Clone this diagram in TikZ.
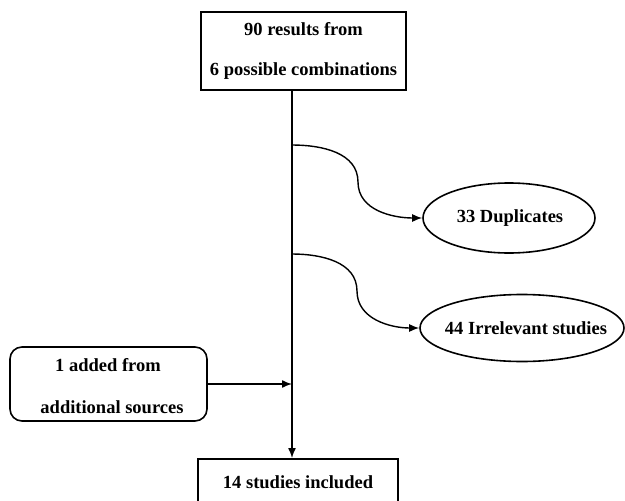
\documentclass[tikz,border=0pt]{standalone}
\usepackage{fontspec}
\setmainfont{Liberation Serif}
\usetikzlibrary{shapes.geometric,arrows.meta}
\begin{document}
\begin{tikzpicture}[x=1pt,y=-1pt,
  every node/.style={font=\fontsize{18.5}{21}\selectfont\bfseries},
  arr/.style={line width=1.4pt, -{Latex[length=10pt,width=8pt]}},
  box/.style={draw, line width=1.6pt, rectangle, inner sep=0pt},
  oval/.style={draw, line width=1.6pt, ellipse, inner sep=0pt}]
\useasboundingbox (0,0) rectangle (625,501);
% top box
\node[box, minimum width=205pt, minimum height=78pt] (top) at (303.5,51) {};
\node (t1) at (303.5,29) {90 results from};
\node (t2) at (303.5,71) {6 possible combinations};
% bottom box
\node[box, minimum width=200pt, minimum height=60pt, anchor=north] (bot) at (298,458) {};
\node (b1) at (298,482) {14 studies included};
% left rounded box
\node[box, rounded corners=12pt, minimum width=197pt, minimum height=74pt] (left) at (108.5,384) {};
\node (l1) at (108,365) {1 added from};
\node (l2) at (112,407) {additional sources};
% ellipses
\node[oval, minimum width=172pt, minimum height=70pt] (dup) at (509,218) {};
\node (dupt) at (510,218) {33 Duplicates};
\node[oval, minimum width=204pt, minimum height=67pt] (irr) at (522,328) {};
\node (irrt) at (526,328) {44 Irrelevant studies};
% main line
\coordinate (m1) at (292,145);
\coordinate (m2) at (292,254);
\coordinate (m3) at (292,384);
\coordinate (c1) at (358,182);
\coordinate (c2) at (357,291);
\draw[arr] (top.south -| m1) -- (bot.north -| m1);
\draw[arr] (m1) to[out=0,in=90] (c1) to[out=-90,in=180] (dup.west);
\draw[arr] (m2) to[out=0,in=90] (c2) to[out=-90,in=180] (irr.west);
\draw[arr] (left.east) -- (m3);
\end{tikzpicture}
\end{document}
